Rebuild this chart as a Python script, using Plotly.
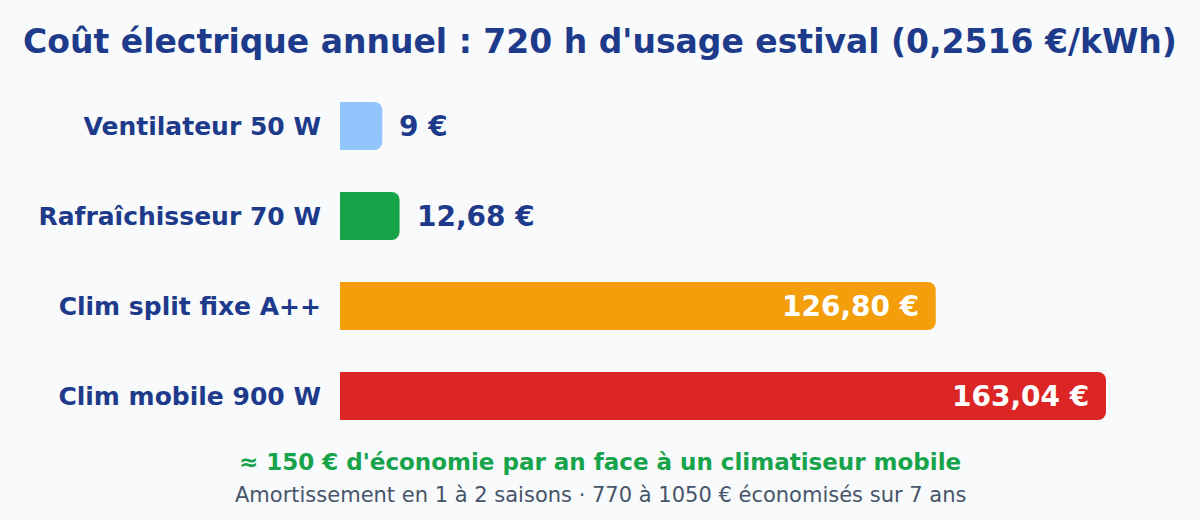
import plotly.graph_objects as go

categories = ["Ventilateur 50 W", "Rafraîchisseur 70 W", "Clim split fixe A++", "Clim mobile 900 W"]
costs = [9.0, 12.68, 126.80, 163.04]
cost_labels = ["9 €", "12,68 €", "126,80 €", "163,04 €"]
colors = ["#93c5fd", "#16a34a", "#f59e0b", "#dc2626"]
label_inside = [False, False, True, True]

title_text = "Coût électrique annuel : 720 h d'usage estival (0,2516 €/kWh)"
note_main = "≈ 150 € d'économie par an face à un climatiseur mobile"
note_sub = "Amortissement en 1 à 2 saisons · 770 à 1050 € économisés sur 7 ans"

BG = "#f8fafc"
DARK = "#1e3a8a"

fig = go.Figure(go.Bar(
    y=categories, x=costs, orientation="h",
    marker=dict(color=colors, line=dict(width=0)),
    width=0.533,
    hoverinfo="skip",
))

annotations = []
for cat, val, lab, inside in zip(categories, costs, cost_labels, label_inside):
    annotations.append(dict(
        x=val, y=cat, xref="x", yref="y", text=lab, showarrow=False,
        xanchor="right" if inside else "left", yanchor="middle",
        xshift=-15 if inside else 15,
        font=dict(family="DejaVu Sans", size=28, weight="bold",
                  color="#ffffff" if inside else DARK),
    ))

annotations += [
    dict(text=note_main, xref="paper", yref="paper", x=(600 - 340) / 860, y=-(462 - 441) / 360,
         xanchor="center", yanchor="middle", showarrow=False,
         font=dict(family="DejaVu Sans", size=23, color="#16a34a", weight="bold")),
    dict(text=note_sub, xref="paper", yref="paper", x=(600 - 340) / 860, y=-(495 - 441) / 360,
         xanchor="center", yanchor="middle", showarrow=False,
         font=dict(family="DejaVu Sans", size=21, color="#475569")),
]

fig.update_layout(
    width=1200, height=520,
    paper_bgcolor=BG, plot_bgcolor=BG,
    margin=dict(l=340, r=0, t=81, b=79),
    barcornerradius=8,
    showlegend=False,
    title=dict(text=title_text, x=0.5, xanchor="center", y=1 - 41 / 520, yanchor="middle",
               font=dict(family="DejaVu Sans", size=33, color=DARK, weight="bold")),
    xaxis=dict(range=[0, 163.04 * 860 / 766], visible=False, fixedrange=True),
    yaxis=dict(autorange="reversed", showgrid=False, zeroline=False, showline=False,
               ticks="", ticklabelstandoff=18,
               tickfont=dict(family="DejaVu Sans", size=25, color=DARK, weight="bold")),
    annotations=annotations,
)

fig.write_html("out.html")
